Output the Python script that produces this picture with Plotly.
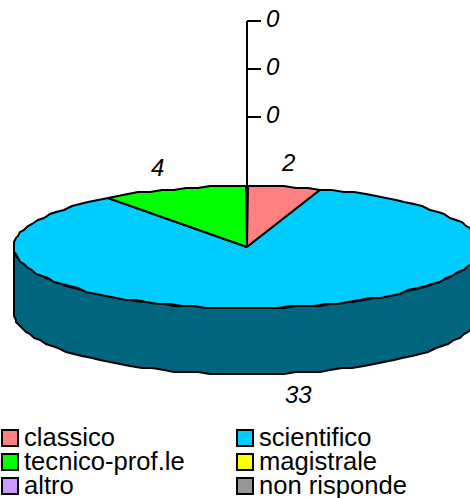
import numpy as np
import plotly.graph_objects as go

categories = ["classico", "scientifico", "tecnico-prof.le", "magistrale", "altro", "non risponde"]
values = [2, 33, 4, 0, 0, 0]
axis_tick_labels = ["0", "0", "0"]

colors = ["#FF8080", "#00CCFF", "#00FF00", "#FFFF00", "#CC99FF", "#969696"]
side_colors = ["#804040", "#006680", "#008000", "#808000", "#664C80", "#4B4B4B"]

W, H = 470, 498
CX, CY, RX, RY, DEPTH = 247, 247, 233, 61, 66
FONT = "Liberation Sans"
GRID = 2.0
LW = 2.0


def ell(deg, dy=0.0):
    t = np.radians(deg)
    x = CX + RX * np.sin(t)
    y = CY - RY * np.cos(t) + dy
    return np.round(x / GRID) * GRID, np.round(y / GRID) * GRID


def arc(a, b, dy=0.0):
    n = max(2, int(abs(b - a) / 3) + 1)
    return ell(np.linspace(a, b, n), dy)


fig = go.Figure()


def poly(xs, ys, fill):
    fig.add_trace(go.Scatter(
        x=xs, y=ys, mode="lines", fill="toself", fillcolor=fill,
        line=dict(color="black", width=LW, simplify=False),
        hoverinfo="skip", showlegend=False))


total = sum(values)
start = 0.0
spans = []
for v in values:
    spans.append((start, start + v / total * 360))
    start += v / total * 360

# visible side walls (front half of the disc)
for (a, b), v, sc in zip(spans, values, side_colors):
    lo, hi = max(a, 90), min(b, 270)
    if v > 0 and hi > lo:
        tx, ty = arc(lo, hi)
        bx, by = arc(hi, lo, DEPTH)
        poly(list(tx) + list(bx) + [tx[0]], list(ty) + list(by) + [ty[0]], sc)

# top faces
for (a, b), v, c in zip(spans, values, colors):
    if v > 0:
        tx, ty = arc(a, b)
        poly([CX] + list(tx) + [CX], [CY] + list(ty) + [CY], c)

# value axis rising from the disc centre
tick_y = [21, 69, 117]
fig.add_trace(go.Scatter(
    x=[CX, CX, None] + sum([[CX, CX + 14, None] for _ in tick_y], []),
    y=[CY, tick_y[0], None] + sum([[t, t, None] for t in tick_y], []),
    mode="lines", line=dict(color="black", width=LW),
    hoverinfo="skip", showlegend=False))

label_font = dict(family=FONT, size=24, color="black")
for lab, ty in zip(axis_tick_labels, tick_y):
    fig.add_annotation(x=273, y=ty - 3, text=f"<i>{lab}</i>", showarrow=False,
                       font=label_font, xanchor="center", yanchor="middle")

# slice value labels
slice_label_pos = {0: (288, 162), 1: (298, 394), 2: (157, 167)}
for i, (x, y) in slice_label_pos.items():
    fig.add_annotation(x=x, y=y, text=f"<i>{values[i]}</i>", showarrow=False,
                       font=label_font, xanchor="center", yanchor="middle")

# legend
col_x = [10, 245]
row_y = [438, 462, 486]
for i, (cat, col) in enumerate(zip(categories, colors)):
    x = col_x[i % 2]
    y = row_y[i // 2]
    fig.add_trace(go.Scatter(
        x=[x], y=[y], mode="markers",
        marker=dict(symbol="square", size=16, color=col, line=dict(color="black", width=2)),
        hoverinfo="skip", showlegend=False))
    fig.add_annotation(x=x + 12, y=y - 1, text=cat, showarrow=False,
                       font=dict(family=FONT, size=25.6, color="black"),
                       xanchor="left", yanchor="middle")

fig.update_layout(
    width=W, height=H, autosize=False,
    margin=dict(l=0, r=0, t=0, b=0),
    paper_bgcolor="white", plot_bgcolor="white",
    xaxis=dict(range=[0, W], visible=False, fixedrange=True),
    yaxis=dict(range=[H, 0], visible=False, fixedrange=True),
)
fig.write_html("out.html", config={"displayModeBar": False},
               post_script="document.body.style.margin='0';document.documentElement.style.overflow='hidden';")
